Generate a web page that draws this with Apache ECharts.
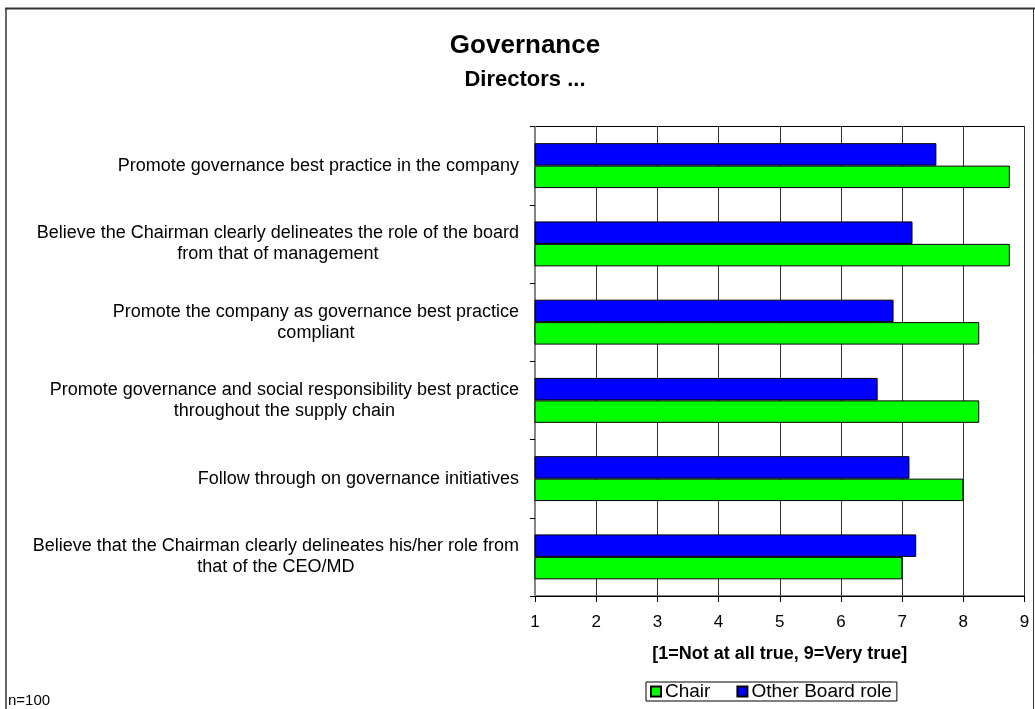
<!DOCTYPE html>
<html>
<head>
<meta charset="utf-8">
<script src="https://cdn.jsdelivr.net/npm/echarts@6/dist/echarts.min.js"></script>
<style>
html,body{margin:0;padding:0;background:#fff;}
#chart{width:1035px;height:709px;}
</style>
</head>
<body>
<div id="chart"></div>
<script>
const categories = [
  'Promote governance best practice in the company',
  'Believe the Chairman clearly delineates the role of the board\nfrom that of management',
  'Promote the company as governance best practice\ncompliant',
  'Promote governance and social responsibility best practice\nthroughout the supply chain',
  'Follow through on governance initiatives',
  'Believe that the Chairman clearly delineates his/her role from\nthat of the CEO/MD'
];
const chairValues = [8.76, 8.76, 8.26, 8.26, 8.0, 7.0];
const otherValues = [7.56, 7.17, 6.86, 6.6, 7.12, 7.23];
const seriesNames = ['Chair', 'Other Board role'];
const titleText = 'Governance';
const subtitleText = 'Directors ...';
const axisNameText = '[1=Not at all true, 9=Very true]';
const noteText = 'n=100';

const FONT = 'Liberation Sans, Arial, sans-serif';
const chart = echarts.init(document.getElementById('chart'));
chart.setOption({
  animation: false,
  backgroundColor: '#fff',
  textStyle: {fontFamily: FONT, color: '#000'},
  grid: {left: 535, right: 10.5, top: 126.5, bottom: 113, show: true, borderColor: '#000', borderWidth: 1, backgroundColor: 'transparent'},
  legend: {
    data: seriesNames,
    left: 646, top: 682,
    orient: 'horizontal',
    itemWidth: 10, itemHeight: 10, itemGap: 26,
    padding: [0, 5, 0, 4],
    borderColor: '#000', borderWidth: 1,
    icon: 'rect',
    textStyle: {fontFamily: FONT, fontSize: 19, color: '#000', padding: [1, 0, 0, -1]}
  },
  xAxis: {
    type: 'value', min: 1, max: 9, interval: 1,
    axisLine: {show: true, lineStyle: {color: '#000', width: 1}},
    axisTick: {show: true, length: 6, lineStyle: {color: '#000'}},
    splitLine: {show: true, lineStyle: {color: '#333', width: 1}},
    axisLabel: {fontFamily: FONT, fontSize: 17, color: '#000', margin: 18},
    name: axisNameText,
    nameLocation: 'middle',
    nameGap: 49,
    nameTextStyle: {fontFamily: FONT, fontSize: 18, fontWeight: 'bold', color: '#000'}
  },
  yAxis: {
    type: 'category', inverse: true, data: categories,
    axisLine: {show: true, lineStyle: {color: '#888', width: 1}},
    axisTick: {show: true, length: 5, lineStyle: {color: '#000'}},
    splitLine: {show: false},
    axisLabel: {
      margin: 16,
      fontFamily: FONT, fontSize: 18, color: '#000', lineHeight: 21,
      formatter: function (v) { return v.split('\n').map(function (l) { return '{c|' + l + '}'; }).join('\n'); },
      rich: {c: {align: 'center', fontFamily: FONT, fontSize: 18, color: '#000', lineHeight: 21}}
    }
  },
  series: [
    {name: seriesNames[1], type: 'bar', data: otherValues, barWidth: '28.7%', barGap: '0%',
     itemStyle: {color: '#0000FF', borderColor: '#000', borderWidth: 1}},
    {name: seriesNames[0], type: 'bar', data: chairValues, barWidth: '28.7%', barGap: '0%',
     itemStyle: {color: '#00FF00', borderColor: '#000', borderWidth: 1}}
  ],
  graphic: [
    {type: 'line', shape: {x1: 5, y1: 8.5, x2: 1035, y2: 8.5}, style: {stroke: '#333', lineWidth: 2}},
    {type: 'line', shape: {x1: 6, y1: 8, x2: 6, y2: 709}, style: {stroke: '#333', lineWidth: 1.5}},
    {type: 'line', shape: {x1: 1033.5, y1: 8, x2: 1033.5, y2: 709}, style: {stroke: '#333', lineWidth: 1}},
    {type: 'text', x: 525, y: 46, style: {text: titleText, align: 'center', verticalAlign: 'middle', font: 'bold 26px ' + FONT, fill: '#000'}},
    {type: 'text', x: 525, y: 80, style: {text: subtitleText, align: 'center', verticalAlign: 'middle', font: 'bold 22px ' + FONT, fill: '#000'}},
    {type: 'text', x: 8, y: 701, style: {text: noteText, align: 'left', verticalAlign: 'middle', font: '15px ' + FONT, fill: '#000'}}
  ]
});
</script>
</body>
</html>
